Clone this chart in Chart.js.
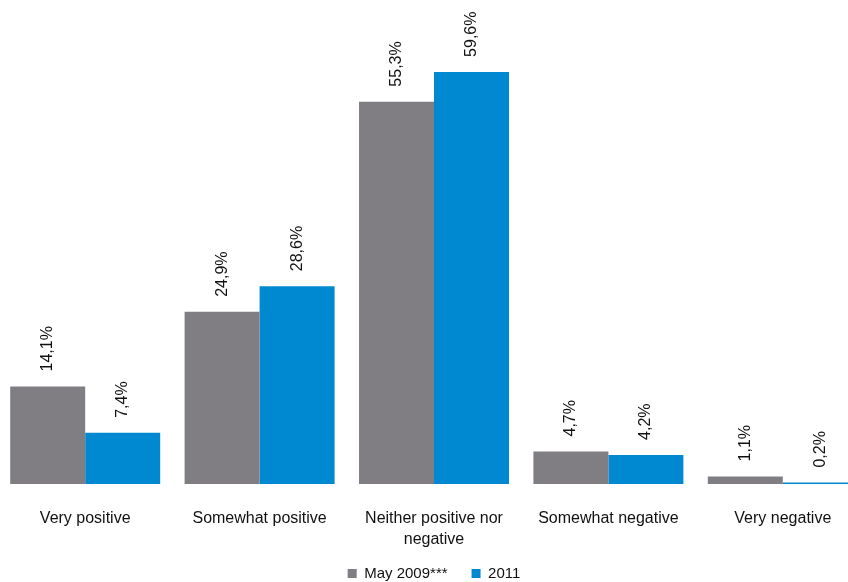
<!DOCTYPE html>
<html>
<head>
<meta charset="utf-8">
<script src="https://cdn.jsdelivr.net/npm/chart.js@4/dist/chart.umd.min.js"></script>
<style>
    html, body { margin: 0; padding: 0; background: #fff; overflow: hidden; }
    #wrap { position: absolute; left: -2px; top: 0; width: 872px; height: 591px; }
</style>
</head>
<body>
<div id="wrap"><canvas id="chart"></canvas></div>
<script>
const categories = [
    "Very positive",
    "Somewhat positive",
    ["Neither positive nor", "negative"],
    "Somewhat negative",
    "Very negative",
];
const may2009 = [14.1, 24.9, 55.3, 4.7, 1.1];
const y2011 = [7.4, 28.6, 59.6, 4.2, 0.2];
const seriesNames = ["May 2009***", "2011"];

const fontFamily = "'Liberation Sans', Arial, sans-serif";

function formatPercent(value) {
    return `${value.toFixed(1).replace(".", ",")}%`;
}

// draws the rotated value labels above each bar
const barLabels = {
    id: "barLabels",
    afterDatasetsDraw(chart) {
        const ctx = chart.ctx;
        ctx.save();
        ctx.font = `16px ${fontFamily}`;
        ctx.fillStyle = "#111";
        ctx.textAlign = "left";
        ctx.textBaseline = "middle";
        chart.data.datasets.forEach((ds, i) => {
            chart.getDatasetMeta(i).data.forEach((bar, j) => {
                ctx.save();
                ctx.translate(bar.x, bar.y - 15);
                ctx.rotate(-Math.PI / 2);
                ctx.fillText(formatPercent(ds.data[j]), 0, 0);
                ctx.restore();
            });
        });
        ctx.restore();
    },
};

// axis box is squeezed so the legend sits close; let its labels draw past it
const unclipTicks = {
    id: "unclipTicks",
    afterLayout(chart) {
        chart.scales.x.bottom += 24;
    },
};

new Chart(document.getElementById("chart"), {
    type: "bar",
    data: {
        labels: categories,
        datasets: [
            {
                label: seriesNames[0],
                data: may2009,
                backgroundColor: "#807e82",
                barPercentage: 1,
                categoryPercentage: 0.86,
            },
            {
                label: seriesNames[1],
                data: y2011,
                backgroundColor: "#0088d1",
                barPercentage: 1,
                categoryPercentage: 0.86,
                minBarLength: 1,
            },
        ],
    },
    options: {
        responsive: true,
        maintainAspectRatio: false,
        animation: false,
        layout: { padding: 0 },
        scales: {
            y: { display: false, min: 0, max: 70 },
            x: {
                grid: { display: false },
                border: { display: false },
                afterFit(scale) {
                    scale.height = 58;
                },
                ticks: {
                    color: "#111",
                    padding: 16,
                    maxRotation: 0,
                    font: { family: fontFamily, size: 16, lineHeight: 1.3125 },
                },
            },
        },
        plugins: {
            legend: {
                position: "bottom",
                labels: {
                    color: "#111",
                    boxWidth: 9,
                    boxHeight: 9,
                    padding: 24,
                    font: { family: fontFamily, size: 15 },
                },
            },
            tooltip: { enabled: false },
        },
    },
    plugins: [barLabels, unclipTicks],
});
</script>
</body>
</html>
